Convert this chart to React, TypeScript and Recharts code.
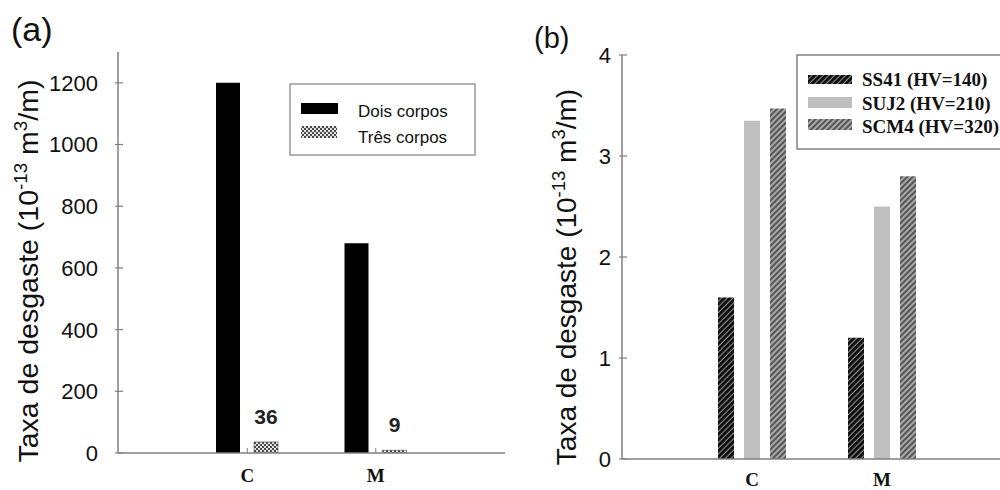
import React from 'react';
import { BarChart, Bar, XAxis, YAxis, LabelList } from 'recharts';

// shared categories
const categories = ['C', 'M'];

// panel (a)
const doisCorpos = [1200, 680];
const tresCorpos = [36, 9];
const ticksA = [0, 200, 400, 600, 800, 1000, 1200];
const legendA = ['Dois corpos', 'Três corpos'];

// panel (b)
const ss41 = [1.6, 1.2];
const suj2 = [3.35, 2.5];
const scm4 = [3.47, 2.8];
const ticksB = [0, 1, 2, 3, 4];
const legendB = ['SS41 (HV=140)', 'SUJ2 (HV=210)', 'SCM4 (HV=320)'];

const dataA = categories.map((c, i) => ({ cat: c, dois: doisCorpos[i], tres: tresCorpos[i] }));
const dataB = categories.map((c, i) => ({ cat: c, ss41: ss41[i], suj2: suj2[i], scm4: scm4[i] }));

const SANS = '"Liberation Sans", Arial, sans-serif';
const SERIF = '"Liberation Serif", "Times New Roman", serif';
const AXIS = '#808080';

const Patterns = ({ prefix }: { prefix: string }) => (
  <defs>
    <pattern id={`${prefix}-checker`} width={4} height={4} patternUnits="userSpaceOnUse">
      <rect width={4} height={4} fill="#e2e2e2" />
      <rect x={0} y={0} width={2} height={2} fill="#4a4a4a" />
      <rect x={2} y={2} width={2} height={2} fill="#4a4a4a" />
    </pattern>
    <pattern id={`${prefix}-dark`} width={4} height={4} patternUnits="userSpaceOnUse" patternTransform="rotate(45)">
      <rect width={4} height={4} fill="#8a8a8a" />
      <rect width={2.8} height={4} fill="#0a0a0a" />
    </pattern>
    <pattern id={`${prefix}-grey`} width={4} height={4} patternUnits="userSpaceOnUse" patternTransform="rotate(45)">
      <rect width={4} height={4} fill="#a8a8a8" />
      <rect width={2} height={4} fill="#555" />
    </pattern>
  </defs>
);

// y tick: label to the left, short tick mark crossing the axis
const makeYTick = (gap: number) => (props: any) => {
  const { x, y, payload } = props;
  const ax = x + gap;
  return (
    <g>
      <line x1={ax - 3} x2={ax + 5} y1={y} y2={y} stroke={AXIS} strokeWidth={1.2} />
      <text x={x} y={y} dy="0.36em" textAnchor="end" fontFamily={SANS} fontSize={22} fill="#111">
        {payload.value}
      </text>
    </g>
  );
};

const makeXTick = (gap: number, mark: boolean) => (props: any) => {
  const { x, y, payload } = props;
  const ay = y - gap;
  return (
    <g>
      {mark && <line x1={x} x2={x} y1={ay - 5} y2={ay} stroke={AXIS} strokeWidth={1} />}
      <text x={x} y={y} dy="0.71em" textAnchor="middle" fontFamily={SERIF} fontWeight="bold" fontSize={19} fill="#111">
        {payload.value}
      </text>
    </g>
  );
};

// rotated y-axis title with superscripts
const makeYLabel = (bx: number, cy: number, fs: number) => () => (
  <text
    transform={`translate(${bx},${cy}) rotate(-90)`}
    textAnchor="middle"
    fontFamily={SANS}
    fontSize={fs}
    fill="#111"
  >
    Taxa de desgaste (10
    <tspan fontSize={fs * 0.66} dy={-fs * 0.4}>-13</tspan>
    <tspan dy={fs * 0.4}> m</tspan>
    <tspan fontSize={fs * 0.66} dy={-fs * 0.4}>3</tspan>
    <tspan dy={fs * 0.4}>/m)</tspan>
  </text>
);

const ChartA = () => (
  <BarChart
    width={520}
    height={490}
    data={dataA}
    margin={{ top: 52, right: 15, bottom: 0, left: 0 }}
    barSize={24}
    barGap={14}
  >
    <Patterns prefix="a" />
    <XAxis
      dataKey="cat"
      height={37}
      padding={{ left: 65, right: 65 }}
      axisLine={{ stroke: AXIS, strokeWidth: 1.5 }}
      tickLine={false}
      tickSize={0}
      tickMargin={16}
      tick={makeXTick(16, true)}
      interval={0}
    />
    <XAxis xAxisId="top" dataKey="cat" orientation="top" height={0} tick={false} tickLine={false} axisLine={{ stroke: AXIS, strokeWidth: 1.5 }} />
    <YAxis
      width={118}
      domain={[0, 1300]}
      ticks={ticksA}
      allowDataOverflow
      axisLine={{ stroke: AXIS, strokeWidth: 1.5 }}
      tickLine={false}
      tickSize={0}
      tickMargin={20}
      tick={makeYTick(20)}
      label={makeYLabel(38, 271, 28.5)}
    />
    <YAxis yAxisId="right" orientation="right" width={0} tick={false} tickLine={false} axisLine={{ stroke: AXIS, strokeWidth: 1.5 }} />
    <Bar dataKey="dois" name={legendA[0]} fill="#000" isAnimationActive={false} />
    <Bar dataKey="tres" name={legendA[1]} fill="url(#a-checker)" stroke="#555" strokeWidth={0.6} isAnimationActive={false}>
      <LabelList dataKey="tres" position="top" offset={18} fontFamily={SANS} fontWeight="bold" fontSize={21} fill="#222" />
    </Bar>
  </BarChart>
);

const ChartB = () => (
  <BarChart
    width={520}
    height={490}
    data={dataB}
    margin={{ top: 55, right: 8, bottom: 0, left: 0 }}
    barSize={16}
    barGap={10}
  >
    <Patterns prefix="b" />
    <XAxis
      dataKey="cat"
      height={31}
      padding={{ left: 65, right: 65 }}
      axisLine={{ stroke: AXIS, strokeWidth: 1.5 }}
      tickLine={false}
      tickSize={0}
      tickMargin={14}
      tick={makeXTick(14, false)}
      interval={0}
    />
    <XAxis xAxisId="top" dataKey="cat" orientation="top" height={0} tick={false} tickLine={false} axisLine={{ stroke: AXIS, strokeWidth: 1.5 }} />
    <YAxis
      width={122}
      domain={[0, 4]}
      ticks={ticksB}
      allowDataOverflow
      axisLine={{ stroke: AXIS, strokeWidth: 1.5 }}
      tickLine={false}
      tickSize={0}
      tickMargin={11}
      tick={makeYTick(11)}
      label={makeYLabel(76, 277, 28)}
    />
    <Bar dataKey="ss41" name={legendB[0]} fill="url(#b-dark)" isAnimationActive={false} />
    <Bar dataKey="suj2" name={legendB[1]} fill="#bfbfbf" isAnimationActive={false} />
    <Bar dataKey="scm4" name={legendB[2]} fill="url(#b-grey)" isAnimationActive={false} />
  </BarChart>
);

// titles and legend boxes drawn over both charts
const Overlay = () => (
  <svg width={1000} height={490} style={{ position: 'absolute', left: 0, top: 0, pointerEvents: 'none' }}>
    <Patterns prefix="lg" />
    <text x={11} y={41} fontFamily={SANS} fontSize={34} fill="#111">(a)</text>
    <text x={534} y={48} fontFamily={SANS} fontSize={29} fill="#111">(b)</text>

    <rect x={290} y={84} width={185} height={71} fill="#fff" stroke="#999" strokeWidth={1.5} />
    <rect x={301} y={103} width={37} height={11} fill="#000" />
    <text x={358} y={117} fontFamily={SANS} fontSize={17} fill="#111">{legendA[0]}</text>
    <rect x={301} y={126} width={36} height={12} fill="url(#lg-checker)" />
    <text x={358} y={143} fontFamily={SANS} fontSize={17} fill="#111">{legendA[1]}</text>

    <rect x={797} y={55} width={260} height={94} fill="#fff" stroke="#808080" strokeWidth={1.5} />
    <rect x={808} y={75} width={44} height={9} fill="url(#lg-dark)" />
    <text x={862} y={86} fontFamily={SERIF} fontWeight="bold" fontSize={19} fill="#111">{legendB[0]}</text>
    <rect x={808} y={97} width={44} height={11} fill="#bfbfbf" />
    <text x={862} y={110} fontFamily={SERIF} fontWeight="bold" fontSize={19} fill="#111">{legendB[1]}</text>
    <rect x={808} y={119} width={44} height={11} fill="url(#lg-grey)" />
    <text x={862} y={133} fontFamily={SERIF} fontWeight="bold" fontSize={19} fill="#111">{legendB[2]}</text>
  </svg>
);

export default function App() {
  return (
    <div style={{ position: 'fixed', left: 0, top: 0, width: 1000, height: 490, overflow: 'hidden', background: '#fff' }}>
      <div style={{ position: 'absolute', left: 0, top: 0 }}>
        <ChartA />
      </div>
      <div style={{ position: 'absolute', left: 500, top: 0 }}>
        <ChartB />
      </div>
      <Overlay />
    </div>
  );
}
